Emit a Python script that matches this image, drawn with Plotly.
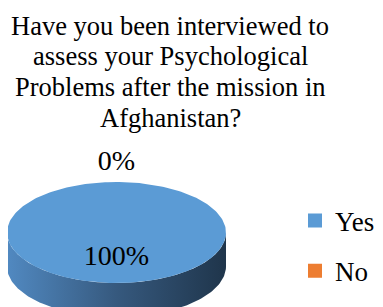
import numpy as np
import plotly.graph_objects as go

# ---- data ----
categories = ["Yes", "No"]
values = [100, 0]
colors = ["#5B9BD5", "#ED7D31"]
side_colorscales = [
    [[0, "#5189C1"], [0.5, "#36597E"], [1, "#1F354B"]],
    [[0, "#D06A28"], [0.5, "#A6521C"], [1, "#7A3C14"]],
]
title_lines = ["Have you been interviewed to", "assess your Psychological",
               "Problems after the mission in", "Afghanistan?"]

# ---- geometry (page-pixel-like axis units) ----
PAGE_W, PAGE_H = 383, 307
OFF = 8  # default body margin of the html page
cx, cy, rx, ry, depth = 116.5, 232.5, 109.5, 50.5, 34
FONT = "Liberation Serif"

total = float(sum(values))
fracs = [v / total for v in values]
starts = np.cumsum([0] + fracs[:-1]) * 360.0
ends = starts + np.array(fracs) * 360.0


def pt(theta_deg, dy=0.0):
    t = np.radians(theta_deg)
    return cx + rx * np.sin(t), cy - ry * np.cos(t) + dy


fig = go.Figure()

# side walls (front half, 90..270 deg clockwise from 12 o'clock)
for i, (s, e) in enumerate(zip(starts, ends)):
    a0, a1 = max(s, 90), min(e, 270)
    if a1 <= a0:
        continue
    th = np.linspace(a0, a1, 120)
    xt, yt = pt(th)
    xb, yb = pt(th[::-1], depth)
    xs = np.concatenate([xt, xb, xt[:1]])
    ys = np.concatenate([yt, yb, yt[:1]])
    fig.add_trace(go.Scatter(
        x=xs, y=ys, mode="lines", fill="toself", line=dict(width=0),
        fillgradient=dict(type="horizontal", colorscale=side_colorscales[i]),
        hoverinfo="skip", showlegend=False))

# top faces
for i, (s, e) in enumerate(zip(starts, ends)):
    if e - s <= 0:
        continue
    th = np.linspace(s, e, 240)
    xt, yt = pt(th)
    xs = np.concatenate([[cx], xt, [cx]])
    ys = np.concatenate([[cy], yt, [cy]])
    fig.add_trace(go.Scatter(
        x=xs, y=ys, mode="lines", fill="toself", fillcolor=colors[i],
        line=dict(width=0), hoverinfo="skip", showlegend=False))

# percentage labels
lx, ly, lt = [], [], []
for i, (s, e) in enumerate(zip(starts, ends)):
    mid = (s + e) / 2.0
    f = 0.5 if fracs[i] > 0.05 else 1.38
    t = np.radians(mid)
    lx.append(cx + f * rx * np.sin(t))
    ly.append(cy - f * ry * np.cos(t))
    lt.append(f"{values[i] / total * 100:.0f}%")
fig.add_trace(go.Scatter(x=lx, y=ly, mode="text", text=lt,
                         textfont=dict(family=FONT, size=28, color="#000000"),
                         hoverinfo="skip", showlegend=False))

# legend entries
for i, c in enumerate(categories):
    fig.add_trace(go.Scatter(
        x=[None], y=[None], mode="markers", name=c, legendgroup=c,
        marker=dict(symbol="square", size=14, color=colors[i])))

# title, one line at a time for exact line pitch
for k, line in enumerate(title_lines):
    fig.add_annotation(text=line, xref="x", yref="y", x=170, y=25.5 + 30.7 * k,
                       xanchor="center", yanchor="middle", showarrow=False,
                       font=dict(family=FONT, size=26.5, color="#000000"))

fig.update_layout(
    width=PAGE_W - OFF, height=PAGE_H - OFF,
    margin=dict(l=0, r=0, t=0, b=0, autoexpand=False),
    paper_bgcolor="white", plot_bgcolor="white",
    xaxis=dict(range=[OFF, PAGE_W], visible=False, fixedrange=True),
    yaxis=dict(range=[PAGE_H, OFF], visible=False, fixedrange=True),
    legend=dict(x=(295 - OFF) / (PAGE_W - OFF), y=(PAGE_H - 246) / (PAGE_H - OFF),
                xanchor="left", yanchor="middle",
                font=dict(family=FONT, size=27, color="#000000"),
                traceorder="grouped", tracegroupgap=12, bgcolor="rgba(0,0,0,0)"),
    showlegend=True,
)

fig.write_html("out.html")
